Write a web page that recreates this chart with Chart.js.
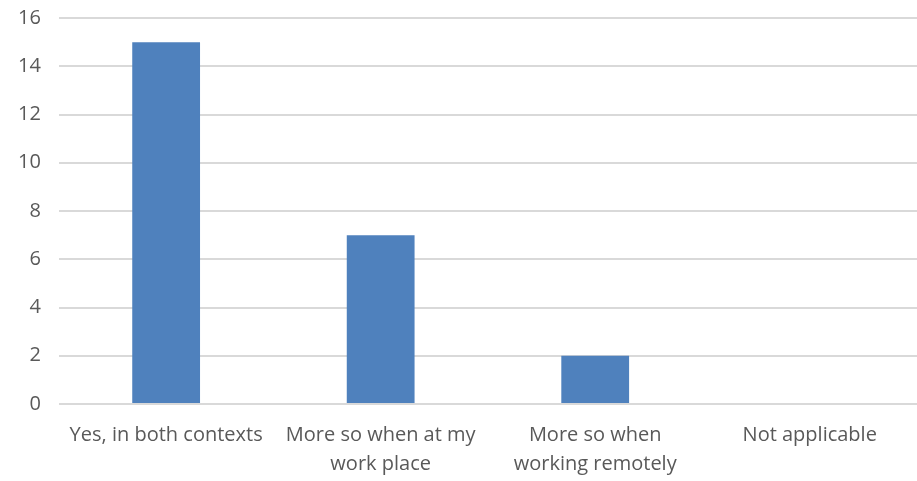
<!DOCTYPE html>
<html>
<head>
<meta charset="utf-8">
<script src="https://cdn.jsdelivr.net/npm/chart.js@4/dist/chart.umd.min.js"></script>
<style>
  html, body { margin: 0; padding: 0; background: #fff; }
  #wrap { width: 917px; height: 481px; }
</style>
</head>
<body>
<div id="wrap"><canvas id="chart" width="917" height="481"></canvas></div>
<script>
// categories and counts
const categories = [
  ['Yes, in both contexts'],
  ['More so when at my', 'work place'],
  ['More so when', 'working remotely'],
  ['Not applicable']
];
const counts = [15, 7, 2, 0];
const yTicks = [0, 2, 4, 6, 8, 10, 12, 14, 16];

const textColor = '#595959';
const font = { family: "'Open Sans', 'Liberation Sans', sans-serif", size: 20, lineHeight: 1.45 };

new Chart(document.getElementById('chart'), {
  type: 'bar',
  data: {
    labels: categories,
    datasets: [{
      data: counts,
      backgroundColor: '#4f81bd',
      borderWidth: 0,
      barPercentage: 1,
      categoryPercentage: 0.316
    }]
  },
  options: {
    responsive: false,
    animation: false,
    layout: { padding: 0 },
    plugins: { legend: { display: false }, tooltip: { enabled: false } },
    scales: {
      x: {
        grid: { display: false, drawTicks: false },
        border: { display: false },
        ticks: {
          color: textColor, font: font, padding: 17,
          maxRotation: 0, autoSkip: false
        },
        afterFit: axis => { axis.height = 77; }
      },
      y: {
        min: 0, max: 16,
        afterBuildTicks: axis => { axis.ticks = yTicks.map(v => ({ value: v })); },
        grid: { color: '#d9d9d9', lineWidth: 2, drawTicks: false },
        border: { display: false },
        ticks: { color: textColor, font: font, padding: 18 },
        afterFit: axis => { axis.paddingTop = 18; axis.paddingBottom = 0; }
      }
    }
  }
});
</script>
</body>
</html>
